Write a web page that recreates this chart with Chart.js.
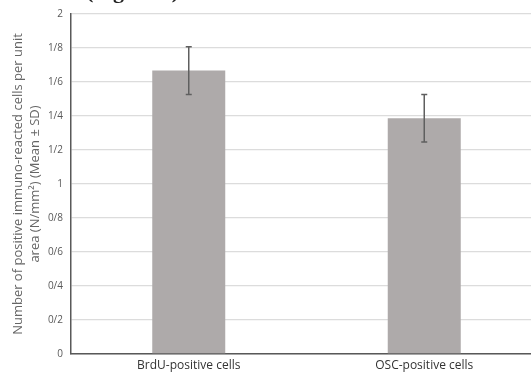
<!DOCTYPE html>
<html>
<head>
<meta charset="utf-8">
<script src="https://cdn.jsdelivr.net/npm/chart.js@4"></script>
<style>
  html, body { margin: 0; padding: 0; background: #fff; overflow: hidden; }
  #wrap { position: relative; width: 545px; height: 378px; }
  #caption { position: absolute; left: 86px; top: -22px; font: bold 22px "Liberation Serif", serif; color: #222; white-space: nowrap; }
</style>
</head>
<body>
<div id="wrap">
  <canvas id="chart" width="545" height="378"></canvas>
  <div id="caption">(Figure 1)</div>
</div>
<script>
// Data
const categories = ['BrdU-positive cells', 'OSC-positive cells'];
const means = [1.667, 1.387];
const sds = [0.141, 0.140];
const tickLabels = ['0', '0/2', '0/4', '0/6', '0/8', '1', '1/2', '1/4', '1/6', '1/8', '2'];

// Error bars drawn with the chart's own scales
const errorBars = {
    id: 'errorBars',
    afterDatasetsDraw(chart) {
        const ctx = chart.ctx;
        const yScale = chart.scales.y;
        const meta = chart.getDatasetMeta(0);
        ctx.save();
        ctx.strokeStyle = '#5f5f5f';
        ctx.lineWidth = 1.5;
        meta.data.forEach((bar, i) => {
            const x = bar.x;
            const top = yScale.getPixelForValue(means[i] + sds[i]);
            const bottom = yScale.getPixelForValue(means[i] - sds[i]);
            ctx.beginPath();
            ctx.moveTo(x, top);
            ctx.lineTo(x, bottom);
            ctx.moveTo(x - 3, top);
            ctx.lineTo(x + 3, top);
            ctx.moveTo(x - 3, bottom);
            ctx.lineTo(x + 3, bottom);
            ctx.stroke();
        });
        ctx.restore();
    }
};

const ctx = document.getElementById('chart').getContext('2d');
const chart = new Chart(ctx, {
    type: 'bar',
    data: {
        labels: categories,
        datasets: [{
            data: means,
            backgroundColor: '#aeaaaa',
            borderWidth: 0,
            categoryPercentage: 1,
            barPercentage: 0.31
        }]
    },
    options: {
        responsive: false,
        animation: false,
        layout: { padding: { top: 10, right: 3, left: 0, bottom: 0 } },
        plugins: {
            legend: { display: false },
            tooltip: { enabled: false }
        },
        scales: {
            x: {
                grid: { display: false, drawTicks: false },
                border: { display: true, color: '#595959', width: 1.5 },
                ticks: { color: '#333', font: { family: 'Open Sans', size: 12 }, padding: 4, maxRotation: 0 },
                afterFit: s => { s.height = 24; }
            },
            y: {
                min: 0,
                max: 2,
                ticks: {
                    stepSize: 0.2,
                    color: '#595959',
                    font: { family: 'Open Sans', size: 10 },
                    padding: 8,
                    callback: (v, i) => tickLabels[i]
                },
                grid: { color: '#dcdcdc', lineWidth: 1.3, drawTicks: false },
                border: { display: true, color: '#595959', width: 1.5 },
                title: {
                    display: true,
                    text: ['Number of positive immuno-reacted cells per unit', 'area (N/mm\u00B2) (Mean \u00B1 SD)'],
                    color: '#666',
                    font: { family: 'Open Sans', size: 13, lineHeight: 1.3 },
                    padding: { top: 10, bottom: 0 }
                },
                afterFit: s => { s.width = 71; }
            }
        }
    },
    plugins: [errorBars]
});
</script>
</body>
</html>
